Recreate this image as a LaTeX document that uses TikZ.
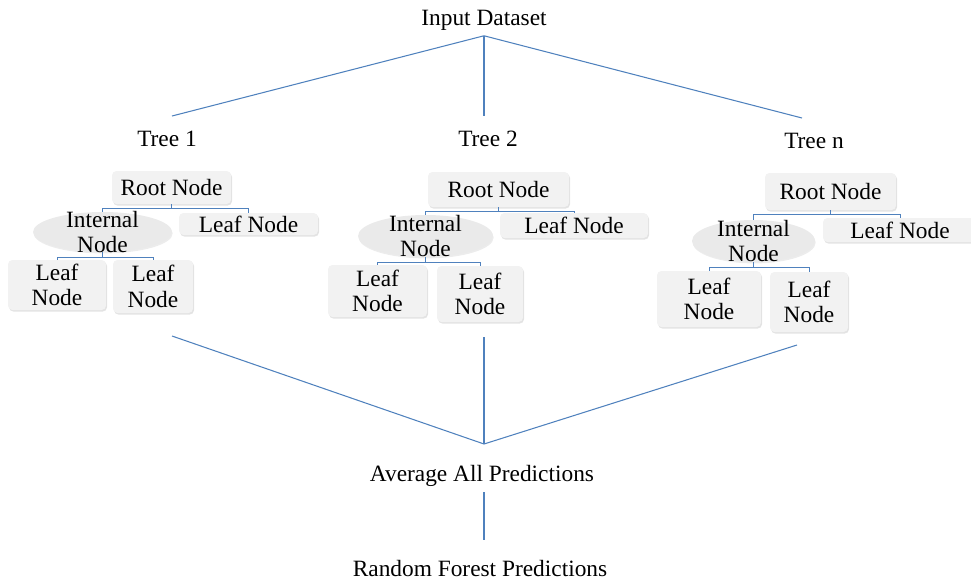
\documentclass[tikz,border=0pt]{standalone}
\usepackage{fontspec}
\setmainfont{Liberation Serif}
\usetikzlibrary{shadows, shapes, positioning, calc}
\definecolor{linkblue}{RGB}{79,129,189}
\definecolor{boxgray}{RGB}{242,242,242}
\definecolor{ellgray}{RGB}{234,234,234}
\tikzset{
  txt/.style={font=\fontsize{13.3}{14.5}\selectfont, align=center, inner sep=3pt},
  box/.style={txt, fill=boxgray, rounded corners=2.5pt, inner sep=1pt, drop shadow={opacity=0.22, shadow xshift=0.6pt, shadow yshift=-0.9pt}},
  inode/.style={txt, ellipse, fill=ellgray, inner xsep=0pt, inner ysep=-0.25cm, drop shadow={opacity=0.15, shadow xshift=0.4pt, shadow yshift=-0.8pt}},
  link/.style={draw=linkblue, line width=0.6pt},
  bar/.style={draw=linkblue, line width=0.5pt},
}

\begin{document}
\begin{tikzpicture}[x=0.02cm, y=-0.02cm]
\useasboundingbox (0,0) rectangle (971,579);
\node[txt] (in) at (484,20) {Input Dataset};
\node[txt] (t1) at (167,139) {Tree 1};
\node[txt] (t2) at (488,139) {Tree 2};
\node[txt] (t3) at (814,141) {Tree n};
\node[txt] (avg) at (482,476) {Average All Predictions};
\node[txt] (rf) at (480,568) {Random Forest Predictions};

\node[box, minimum width=2.38cm, minimum height=0.66cm] (r1) at (171.5,187.5) {Root Node};
\node[inode, minimum width=2.78cm, minimum height=0.80cm] (i1) at (102.5,232) {Internal\\Node};
\node[box, minimum width=2.78cm, minimum height=0.44cm] (f1) at (248.5,224) {Leaf Node};
\node[box, minimum width=1.96cm, minimum height=1.00cm] (a1) at (57,285) {Leaf\\Node};
\node[box, minimum width=1.60cm, minimum height=1.06cm] (b1) at (153,286.5) {Leaf\\Node};

\node[box, minimum width=2.82cm, minimum height=0.70cm] (r2) at (498.5,189.5) {Root Node};
\node[inode, minimum width=2.70cm, minimum height=0.84cm] (i2) at (425.5,236) {Internal\\Node};
\node[box, minimum width=2.96cm, minimum height=0.50cm] (f2) at (574,225.5) {Leaf Node};
\node[box, minimum width=1.98cm, minimum height=1.04cm] (a2) at (377.5,291) {Leaf\\Node};
\node[box, minimum width=1.72cm, minimum height=1.12cm] (b2) at (480,294) {Leaf\\Node};

\node[box, minimum width=2.62cm, minimum height=0.74cm] (r3) at (830.5,191.5) {Root Node};
\node[inode, minimum width=2.46cm, minimum height=0.84cm] (i3) at (753.5,241) {Internal\\Node};
\node[box, minimum width=3.08cm, minimum height=0.48cm] (f3) at (900,230) {Leaf Node};
\node[box, minimum width=2.08cm, minimum height=1.12cm] (a3) at (709,299) {Leaf\\Node};
\node[box, minimum width=1.56cm, minimum height=1.20cm] (b3) at (809,302) {Leaf\\Node};

\draw[bar] (r1.south) -- ++(0,4) coordinate (r1b);
\draw[bar] (i1.north) |- (r1b) -| (f1.north);
\draw[bar] (i1.south) -- ++(0,5) coordinate (i1b);
\draw[bar] (a1.north) |- (i1b) -| (b1.north);
\draw[bar] (r2.south) -- ++(0,4) coordinate (r2b);
\draw[bar] (i2.north) |- (r2b) -| (f2.north);
\draw[bar] (i2.south) -- ++(0,5) coordinate (i2b);
\draw[bar] (a2.north) |- (i2b) -| (b2.north);
\draw[bar] (r3.south) -- ++(0,4) coordinate (r3b);
\draw[bar] (i3.north) |- (r3b) -| (f3.north);
\draw[bar] (i3.south) -- ++(0,5) coordinate (i3b);
\draw[bar] (a3.north) |- (i3b) -| (b3.north);

\coordinate (t1top) at (172,116);
\coordinate (t2top) at (484,116);
\coordinate (t3top) at (802,118);
\coordinate (t1bot) at (172,336);
\coordinate (t2bot) at (484,337);
\coordinate (t3bot) at (797,345);
\coordinate (join) at (484,444);
\draw[link] (in.south) -- (t1top);
\draw[link] (in.south) -- (t2top);
\draw[link] (in.south) -- (t3top);
\draw[link] (t1bot) -- (join);
\draw[link] (t2bot) -- (join);
\draw[link] (t3bot) -- (join);
\draw[link, shorten >=8pt] (avg.south -| join) -- (rf.north -| join);
\end{tikzpicture}
\end{document}
